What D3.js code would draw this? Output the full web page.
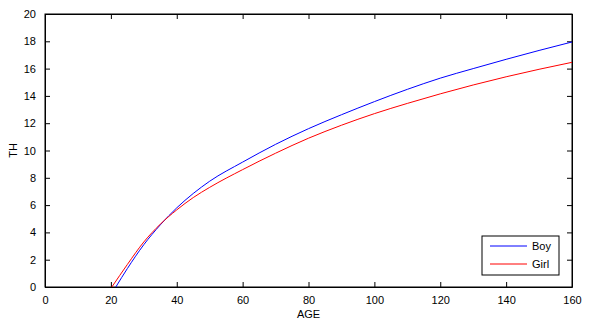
<!DOCTYPE html>
<html>
<head>
<meta charset="utf-8">
<script src="https://cdn.jsdelivr.net/npm/d3@7"></script>
<style>
  body { margin: 0; background: #fff; }
  text { font-family: "Liberation Sans", Arial, sans-serif; font-size: 11px; }
</style>
</head>
<body>
<svg id="my_svg"></svg>
<script>
// values
const boyAge = [21.5, 25, 30, 35, 40, 45, 50, 60, 70, 80, 90, 100, 110, 120, 130, 140, 150, 160];
const boyTH  = [0, 1.35, 3.1, 4.55, 5.8, 6.85, 7.75, 9.15, 10.45, 11.6, 12.62, 13.58, 14.48, 15.3, 16.0, 16.68, 17.33, 17.95];
const girlAge = [20.3, 25, 30, 35, 40, 45, 50, 60, 70, 80, 90, 100, 110, 120, 130, 140, 150, 160];
const girlTH  = [0, 1.65, 3.3, 4.6, 5.65, 6.55, 7.3, 8.6, 9.8, 10.9, 11.85, 12.7, 13.45, 14.15, 14.8, 15.4, 15.95, 16.46];
const xTicks = [0, 20, 40, 60, 80, 100, 120, 140, 160];
const yTicks = [0, 2, 4, 6, 8, 10, 12, 14, 16, 18, 20];

const width = 592, height = 329;
const mLeft = 45, mRight = 572, mTop = 14, mBottom = 287;

const svg = d3.select('#my_svg')
    .attr('width', width)
    .attr('height', height);

const x = d3.scaleLinear().domain([0, 160]).range([mLeft, mRight]);
const y = d3.scaleLinear().domain([0, 20]).range([mBottom, mTop]);

// axes with inward ticks on all four sides (box on)
svg.append('g').attr('transform', `translate(0,${mBottom})`)
    .call(d3.axisBottom(x).tickValues(xTicks).tickSizeInner(-5).tickSizeOuter(0).tickPadding(9));
svg.append('g').attr('transform', `translate(${mLeft},0)`)
    .call(d3.axisLeft(y).tickValues(yTicks).tickSizeInner(-5).tickSizeOuter(0).tickPadding(9));
svg.append('g').attr('transform', `translate(0,${mTop})`)
    .call(d3.axisTop(x).tickValues(xTicks).tickSizeInner(-5).tickSizeOuter(0).tickFormat(''));
svg.append('g').attr('transform', `translate(${mRight},0)`)
    .call(d3.axisRight(y).tickValues(yTicks).tickSizeInner(-5).tickSizeOuter(0).tickFormat(''));

svg.selectAll('.domain').attr('stroke', '#000');
svg.selectAll('.tick line').attr('stroke', '#000');
svg.selectAll('.tick text').attr('fill', '#000').style('font-size', '11px');

svg.append('rect')
    .attr('x', mLeft).attr('y', mTop)
    .attr('width', mRight - mLeft).attr('height', mBottom - mTop)
    .attr('fill', 'none').attr('stroke', '#000');

const line = d3.line().x(d => x(d[0])).y(d => y(d[1])).curve(d3.curveMonotoneX);

svg.append('path')
    .attr('d', line(boyAge.map((a, i) => [a, boyTH[i]])))
    .attr('fill', 'none').attr('stroke', '#0000ff').attr('stroke-width', 1);
svg.append('path')
    .attr('d', line(girlAge.map((a, i) => [a, girlTH[i]])))
    .attr('fill', 'none').attr('stroke', '#ff0000').attr('stroke-width', 1);

// axis labels
svg.append('text').attr('x', (mLeft + mRight) / 2).attr('y', 318)
    .attr('text-anchor', 'middle').text('AGE');
svg.append('text').attr('transform', `translate(17,${(mTop + mBottom) / 2}) rotate(-90)`)
    .attr('text-anchor', 'middle').text('TH');

// legend
const legend = svg.append('g');
legend.append('rect').attr('x', 482).attr('y', 236).attr('width', 77).attr('height', 39)
    .attr('fill', '#fff').attr('stroke', '#000');
[['Boy', '#0000ff', 246], ['Girl', '#ff0000', 264]].forEach(([name, col, ly]) => {
    legend.append('line').attr('x1', 490).attr('x2', 527).attr('y1', ly).attr('y2', ly)
        .attr('stroke', col);
    legend.append('text').attr('x', 532).attr('y', ly + 4).text(name);
});
</script>
</body>
</html>
